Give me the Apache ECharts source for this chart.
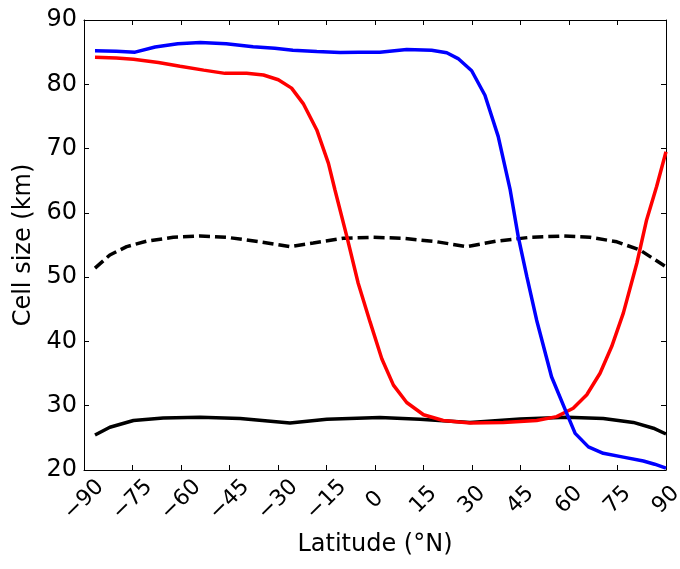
<!DOCTYPE html>
<html>
<head>
<meta charset="utf-8">
<script src="https://cdn.jsdelivr.net/npm/echarts@6/dist/echarts.min.js"></script>
<style>
  html, body { margin: 0; padding: 0; background: #fff; }
  #chart { width: 680px; height: 569px; }
</style>
</head>
<body>
<div id="chart"></div>
<script>
// Values: latitude (°N) and cell size (km)
const blueLat = [-86.6, -80, -74.2, -68, -61, -54, -46, -37.7, -31, -25.4, -18, -10.8, -5, 1.5, 9.8, 17.5, 22.2, 25.7, 29.9, 34, 38.1, 41.8, 44.3, 47, 50, 54.6, 59.3, 61.9, 66, 70.6, 76.8, 83, 86.5, 90];
const blueVal = [85.2, 85.15, 85.0, 85.8, 86.3, 86.5, 86.3, 85.85, 85.6, 85.3, 85.1, 84.95, 85.0, 85.0, 85.4, 85.3, 84.9, 84.0, 82.1, 78.3, 71.9, 63.6, 56.3, 50, 43.3, 34.5, 28.8, 25.7, 23.6, 22.6, 22.0, 21.4, 20.9, 20.3];

const redLat = [-86.6, -80, -74.7, -67, -60.3, -53, -46.4, -39.7, -34.5, -29.9, -25.8, -22.2, -18, -14.4, -12.4, -8.7, -5.2, -1.5, 2.1, 5.7, 9.8, 15, 21.1, 29.4, 39.7, 50, 56.2, 61.3, 65.5, 69.6, 73.2, 76.8, 81, 84, 87.1, 90];
const redVal = [84.2, 84.1, 83.9, 83.4, 82.8, 82.2, 81.7, 81.7, 81.45, 80.7, 79.4, 77.0, 72.9, 67.7, 63.6, 56.3, 49.05, 43.0, 37.3, 33.2, 30.5, 28.6, 27.7, 27.3, 27.4, 27.7, 28.3, 29.6, 31.7, 35.05, 39.2, 44.4, 52.2, 58.9, 64.1, 69.5];

const dashLat = [-86.6, -82, -76.8, -70.6, -62.4, -54.1, -45.9, -35.6, -26.3, -19.1, -9.8, -0.5, 8.8, 19.1, 28.4, 37.6, 48, 58.3, 66.5, 74.8, 82, 90];
const dashVal = [51.4, 53.45, 54.75, 55.6, 56.2, 56.4, 56.2, 55.5, 54.75, 55.3, 56.05, 56.2, 56.05, 55.5, 54.75, 55.6, 56.2, 56.4, 56.2, 55.5, 54.2, 51.6];

const solidLat = [-86.6, -82, -74.7, -65.5, -54.1, -41.7, -26.3, -14.9, 1.5, 13.9, 29.4, 44.9, 59.3, 70.6, 79.9, 86.1, 90];
const solidVal = [25.45, 26.65, 27.7, 28.1, 28.2, 28.0, 27.3, 27.9, 28.15, 27.9, 27.4, 27.95, 28.2, 28.0, 27.4, 26.5, 25.6];

const FONT = 'DejaVu Sans';
const pairs = (xs, ys) => xs.map((x, i) => [x, ys[i]]);
const minus = v => String(v).replace('-', '\u2212');

// matplotlib-style box: ticks pointing inward on all four sides
const frameAxis = {
  axisLine: { show: true, onZero: false, lineStyle: { color: '#000', width: 1 } },
  axisTick: { show: true, inside: true, length: 5, lineStyle: { color: '#000', width: 1 } },
  splitLine: { show: false },
};

const line = (data, color, type, z) => ({
  type: 'line', data, showSymbol: false, symbol: 'none', smooth: false, z,
  lineStyle: { color, width: 3.5, type },
});

const chart = echarts.init(document.getElementById('chart'), null, { renderer: 'canvas' });
chart.setOption({
  animation: false,
  grid: { left: 84, right: 14, top: 20, bottom: 99, containLabel: false, outerBoundsMode: 'none' },
  xAxis: [
    Object.assign({
      type: 'value', min: -90, max: 90, interval: 15, position: 'bottom',
      name: 'Latitude (\u00b0N)', nameLocation: 'middle', nameGap: 63,
      nameTextStyle: { fontFamily: FONT, fontSize: 24, color: '#000' },
      axisLabel: {
        rotate: 45, align: 'center', verticalAlign: 'middle', margin: 30,
        fontFamily: FONT, fontSize: 22, color: '#000', formatter: minus,
        showMinLabel: true, showMaxLabel: true,
      },
    }, frameAxis),
    Object.assign({
      type: 'value', min: -90, max: 90, interval: 15, position: 'top',
      axisLabel: { show: false },
    }, frameAxis),
  ],
  yAxis: [
    Object.assign({
      type: 'value', min: 20, max: 90, interval: 10, position: 'left',
      name: 'Cell size (km)', nameLocation: 'middle', nameGap: 47,
      nameTextStyle: { fontFamily: FONT, fontSize: 24, color: '#000' },
      axisLabel: { margin: 7, fontFamily: FONT, fontSize: 24, color: '#000' },
    }, frameAxis),
    Object.assign({
      type: 'value', min: 20, max: 90, interval: 10, position: 'right',
      axisLabel: { show: false },
    }, frameAxis),
  ],
  series: [
    line(pairs(dashLat, dashVal), '#000', [11, 5], 2),
    line(pairs(solidLat, solidVal), '#000', 'solid', 3),
    line(pairs(redLat, redVal), '#ff0000', 'solid', 4),
    line(pairs(blueLat, blueVal), '#0000ff', 'solid', 5),
  ],
});
</script>
</body>
</html>
